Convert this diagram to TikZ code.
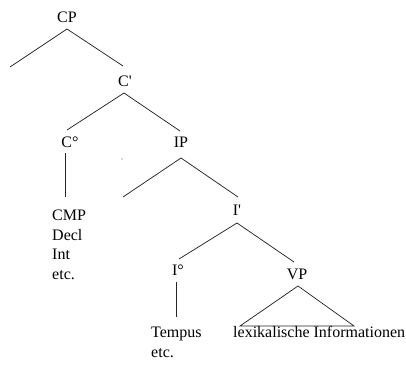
\documentclass[tikz,border=0pt]{standalone}
\usepackage{fontspec}
\setmainfont{Liberation Serif}[Ligatures=TeXOff]
\begin{document}
\begin{tikzpicture}[x=1pt,y=-1pt,
  lbl/.style={anchor=base,inner sep=0pt,font=\fontsize{16}{19.5}\selectfont},
  edge/.style={line width=0.75pt,black!85}]
\useasboundingbox (0,0) rectangle (406,366);
% labels
\node[lbl] (cp) at (67,23) {CP};
\node[lbl] (cbar) at (125,87) {C'};
\node[lbl] (c0) at (70,147) {C°};
\node[lbl] (ip) at (181,147) {IP};
\node[lbl] (ibar) at (237,215) {I'};
\node[lbl] (i0) at (178,275) {I°};
\node[lbl] (vp) at (297,279) {VP};
\node[lbl,anchor=base west,align=left] (cmp) at (52,279) {CMP\\Decl\\Int\\etc.};
\node[lbl,anchor=base west,align=left] (tempus) at (151,357) {Tempus\\etc.};
\node[lbl,anchor=base west] (lex) at (233,337) {lexikalische Informationen};
% coordinates
\coordinate (cpT) at (67,29);
\coordinate (cpL) at (10,67);
\coordinate (cpR) at (123,66);
\coordinate (cbT) at (124,93);
\coordinate (cbL) at (67,130);
\coordinate (cbR) at (180,131);
\coordinate (c0T) at (65,153);
\coordinate (c0B) at (65,197);
\coordinate (ipT) at (181,158);
\coordinate (ipL) at (123,197);
\coordinate (ipR) at (238,197);
\coordinate (ibT) at (237,223);
\coordinate (ibL) at (179,259);
\coordinate (ibR) at (294,262);
\coordinate (i0T) at (176,282);
\coordinate (i0B) at (176,317);
\coordinate (vpT) at (298,286);
\coordinate (vpL) at (240,326);
\coordinate (vpR) at (354,326);
% edges
\draw[edge] (cpL) -- (cpT) -- (cpR);
\draw[edge] (cbL) -- (cbT) -- (cbR);
\draw[edge] (c0T) -- (c0B);
\draw[edge] (ipL) -- (ipT) -- (ipR);
\draw[edge] (ibL) -- (ibT) -- (ibR);
\draw[edge] (i0T) -- (i0B);
\draw[edge] (vpL) -- (vpT) -- (vpR) -- cycle;
\fill[black!70] (122,159) circle (0.6);
\end{tikzpicture}
\end{document}
